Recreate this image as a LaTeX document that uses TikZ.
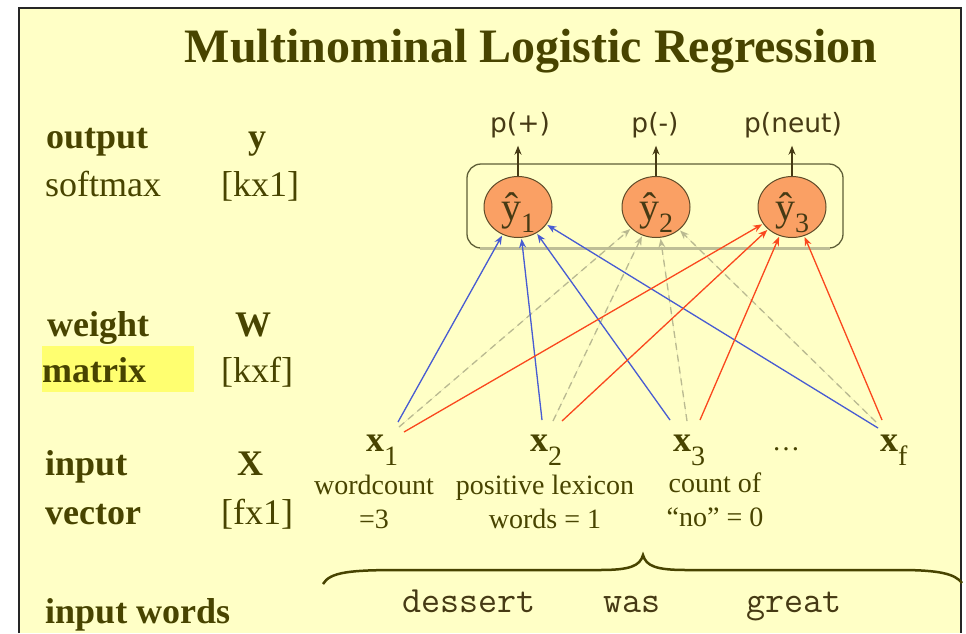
\documentclass[tikz,border=0pt]{standalone}
\usepackage{fontspec}
\setmainfont{Liberation Serif}
\newfontfamily\netsans{DejaVu Sans}
\usetikzlibrary{shapes.geometric,arrows.meta}
\definecolor{bgyel}{RGB}{255,255,198}
\definecolor{hiyel}{RGB}{255,255,112}
\definecolor{olivetxt}{RGB}{72,68,0}
\definecolor{nettxt}{RGB}{70,58,20}
\definecolor{wblue}{RGB}{72,92,210}
\definecolor{wred}{RGB}{250,72,30}
\definecolor{wgrey}{RGB}{185,185,145}
\definecolor{neuron}{RGB}{250,160,100}
\definecolor{neuronedge}{RGB}{95,75,40}
\definecolor{boxedge}{RGB}{95,95,55}
\definecolor{boxlight}{RGB}{190,190,150}
\newcommand{\fs}[1]{\fontsize{#1}{#1}\selectfont}
\newcommand{\yhat}[1]{\makebox[0pt]{\smash{\raisebox{-13pt}{\fs{40}ŷ\raisebox{-12pt}{\fs{28}#1}}}}}
\newcommand{\xsub}[1]{\textbf{x}\raisebox{-14pt}{\fs{28}#1}}
\begin{document}
\begin{tikzpicture}[x=1pt,y=-1pt,
  lab/.style={anchor=base west, inner sep=0, text=olivetxt, font=\fs{36}},
  labbold/.style={anchor=base west, inner sep=0, text=olivetxt, font=\fs{36}\bfseries},
  dimbold/.style={anchor=base, inner sep=0, text=olivetxt, font=\fs{36}\bfseries},
  neuronnode/.style={ellipse, draw=neuronedge, fill=neuron, line width=1, minimum width=68, minimum height=61, inner sep=0, text=nettxt},
  plab/.style={anchor=base, inner sep=0, text=nettxt, font=\netsans\fs{26.5}},
  uparrow/.style={-{Stealth[length=9pt,width=7pt]}, line width=1.3, draw=nettxt},
  wline/.style={-{Stealth[length=9pt,width=7pt]}, line width=1.3, shorten >=1pt},
  xin/.style={anchor=base west, inner sep=0, text=olivetxt, font=\fs{36}},
  desc/.style={anchor=base, inner sep=0, align=center, text=olivetxt, font=\fontsize{28}{34}\selectfont},
  word/.style={anchor=base, inner sep=0, text=nettxt, font=\ttfamily\fs{37}}
]
\useasboundingbox (0,0) rectangle (966,633);
\fill[white] (0,0) rectangle (966,633);
\fill[bgyel] (19,8) rectangle (961,633);
\draw[line width=2.5, black!85] (19,633) -- (19,8) -- (961,8) -- (961,633);
\fill[hiyel] (42,346) rectangle (194,392);

% title
\node[anchor=base, inner sep=0, text=olivetxt, font=\fs{48}\bfseries] (title) at (531,62) {Multinominal Logistic Regression};

% left labels
\node[labbold] (lout) at (46,148) {output};
\node[dimbold] (ly) at (257,148) {y};
\node[lab] (lsoft) at (45,196) {softmax};
\node[lab] (lkx1) at (221,196) {[kx1]};
\node[labbold] (lweight) at (47,336) {weight};
\node[dimbold] (lW) at (253,336) {W};
\node[labbold] (lmatrix) at (42,382) {matrix};
\node[lab] (lkxf) at (221,382) {[kxf]};
\node[labbold] (linput) at (45,475) {input};
\node[dimbold] (lX) at (250,475) {X};
\node[labbold] (lvector) at (45,524) {vector};
\node[lab] (lfx1) at (221,524) {[fx1]};
\node[labbold] (lwords) at (45,623) {input words};

% output box
\node[draw=boxedge, line width=1.3, rounded corners=14pt, minimum width=376, minimum height=84, inner sep=0] (outbox) at (655,206) {};
\draw[boxlight, line width=3.5] ([xshift=14pt]outbox.south west) -- ([xshift=-14pt]outbox.south east);

% neurons
\node[neuronnode] (y1) at (518,207) {\yhat{1}};
\node[neuronnode] (y2) at (656,207) {\yhat{2}};
\node[neuronnode] (y3) at (792,207) {\yhat{3}};

% outputs
\node[plab] (p1) at (520,132) {p(+)};
\node[plab] (p2) at (655,132) {p(-)};
\node[plab] (p3) at (793,132) {p(neut)};
\draw[uparrow, shorten >=8pt] (y1.north) -- (y1.north |- p1.south);
\draw[uparrow, shorten >=8pt] (y2.north) -- (y2.north |- p2.south);
\draw[uparrow, shorten >=8pt] (y3.north) -- (y3.north |- p3.south);

% inputs
\node[xin] (x1) at (366,451) {\xsub{1}};
\node[xin] (x2) at (530,451) {\xsub{2}};
\node[xin] (x3) at (673,451) {\xsub{3}};
\node[xin] (dots) at (772,450) {\fs{28}\ldots};
\node[xin] (xf) at (880,451) {\xsub{f}};

\node[desc] (d1) at (374,528) {wordcount\\=3};
\node[desc] (d2) at (545,528) {positive lexicon\\words = 1};
\node[desc] (d3) at (715,526) {count of\\“no” = 0};

% start points of weights
\coordinate (b1) at (398,422); \coordinate (g1) at (399,427); \coordinate (r1) at (404,432);
\coordinate (b2) at (542,420); \coordinate (g2) at (553,421); \coordinate (r2) at (562,421);
\coordinate (b3) at (670,420); \coordinate (g3) at (687,421); \coordinate (r3) at (700,420);
\coordinate (bf) at (878,428); \coordinate (gf) at (876,422); \coordinate (rf) at (882,420);

% grey dashed to y2
\foreach \s in {g1,g2,g3,gf}
  \draw[wline, draw=wgrey, fill=wgrey, dash pattern=on 7pt off 5pt] (\s) -- (y2);
% blue to y1
\foreach \s in {b1,b2,b3,bf}
  \draw[wline, draw=wblue, fill=wblue] (\s) -- (y1);
% red to y3
\foreach \s in {r1,r2,r3,rf}
  \draw[wline, draw=wred, fill=wred] (\s) -- (y3);

% brace
\draw[line width=2.5, olivetxt] (323,584) .. controls (330,572) and (350,570) .. (400,570) -- (600,570) .. controls (630,570) and (640,566) .. (643,555) .. controls (646,566) and (656,570) .. (686,570) -- (900,570) .. controls (940,570) and (955,574) .. (962,583);

% words
\node[word] (w1) at (469,612) {dessert};
\node[word] (w2) at (632,612) {was};
\node[word] (w3) at (794,612) {great};
\end{tikzpicture}
\end{document}
